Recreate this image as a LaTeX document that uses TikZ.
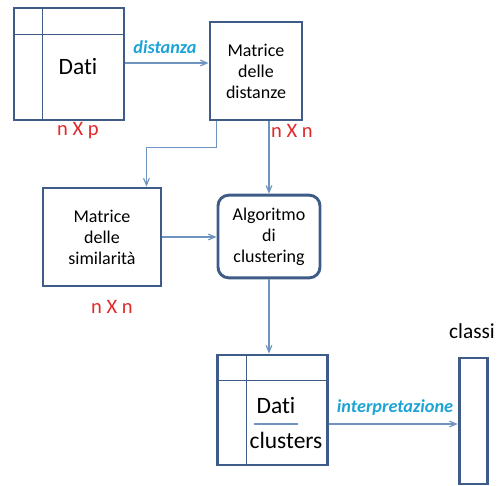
\documentclass[tikz,border=0pt]{standalone}
\usepackage{fontspec}
\setmainfont{Carlito}[Ligatures=NoCommon]
\usetikzlibrary{arrows}
\usetikzlibrary{positioning}
\definecolor{boxline}{RGB}{62,92,135}
\definecolor{arrline}{RGB}{112,148,192}
\definecolor{lblblue}{RGB}{30,163,214}
\definecolor{dimred}{RGB}{226,40,40}
\tikzset{>=angle 45,
  box/.style={draw=boxline, line width=2.2pt, inner sep=0pt, align=center,
    font=\fontsize{13.5}{15.8}\selectfont},
  grid/.style={draw=boxline, line width=0.8pt},
  conn/.style={draw=arrline, line width=0.9pt, ->},
  lbl/.style={text=lblblue, font=\fontsize{13.7}{16}\selectfont\bfseries\itshape},
  dim/.style={text=dimred, font=\fontsize{15.4}{18}\selectfont},
  big/.style={font=\fontsize{17.6}{20}\selectfont}}

\begin{document}
\begin{tikzpicture}[x=0.75pt, y=-0.75pt]

    \useasboundingbox (0,0) rectangle (497,486);

	% boxes
	\node [box, minimum width=82.5pt, minimum height=84pt] (dati) at (69,64) {};
	\node [box, minimum width=69pt, minimum height=73.5pt] (mdist) at (256,71) {Matrice\\delle\\distanze};
	\node [box, minimum width=88.5pt, minimum height=73.5pt] (msim) at (102,237) {Matrice\\delle\\similarità};
	\node [box, rounded corners=8pt, minimum width=76.5pt, minimum height=62pt] (algo) at (269,236.5) {Algoritmo\\di\\clustering};
	\node [box, minimum width=83pt, minimum height=82.5pt] (clus) at (272.5,410) {};
	\node [box, minimum width=21.5pt, minimum height=94.5pt] (classi) at (473.5,421) {};

	% table lines
	\draw [grid] ([xshift=22.5pt]dati.north west) -- ([xshift=22.5pt]dati.south west);
	\draw [grid] ([yshift=-21pt]dati.north west) -- ([yshift=-21pt]dati.north east);
	\draw [grid] ([xshift=23.25pt]clus.north west) -- ([xshift=23.25pt]clus.south west);
	\draw [grid] ([yshift=-20.25pt]clus.north west) -- ([yshift=-20.25pt]clus.north east);

	% texts
	\node [big] (datitxt) at (78,67) {Dati};
	\node [big] (clusdati) at (276,406) {Dati};
	\node [big] (clustxt) at (286,440) {clusters};
	\draw [draw=arrline, line width=0.8pt] (254,424) -- (298,424);

	\node [lbl] (ldist) at (165,47) {distanza};
	\node [lbl] (linterp) at (395,408) {interpretazione};
	\node [font=\fontsize{16}{18}\selectfont] (lclassi) at (472,331) {classi};

	\node [dim] (dimp) at (78,131) {n X p};
	\node [dim] (dimn) at (292,131) {n X n};
	\node [dim] (dims) at (112,307) {n X n};

	% connectors
	\draw [conn] (dati.east |- 0,63) -- (mdist.west |- 0,63);
	\draw [conn] ([xshift=6pt]mdist.south west) -- ++(0,26) -| ([xshift=-12pt]msim.north east);
	\draw [conn] (algo.north |- mdist.south) -- (algo.north);
	\draw [conn] (msim.east) -- (msim.east -| algo.west);
	\draw [conn] (algo.south) -- (algo.south |- clus.north);
	\draw [conn] ([yshift=-10.5pt]clus.east) -- ([yshift=-10.5pt]clus.east -| classi.west);

    \end{tikzpicture}
\end{document}
